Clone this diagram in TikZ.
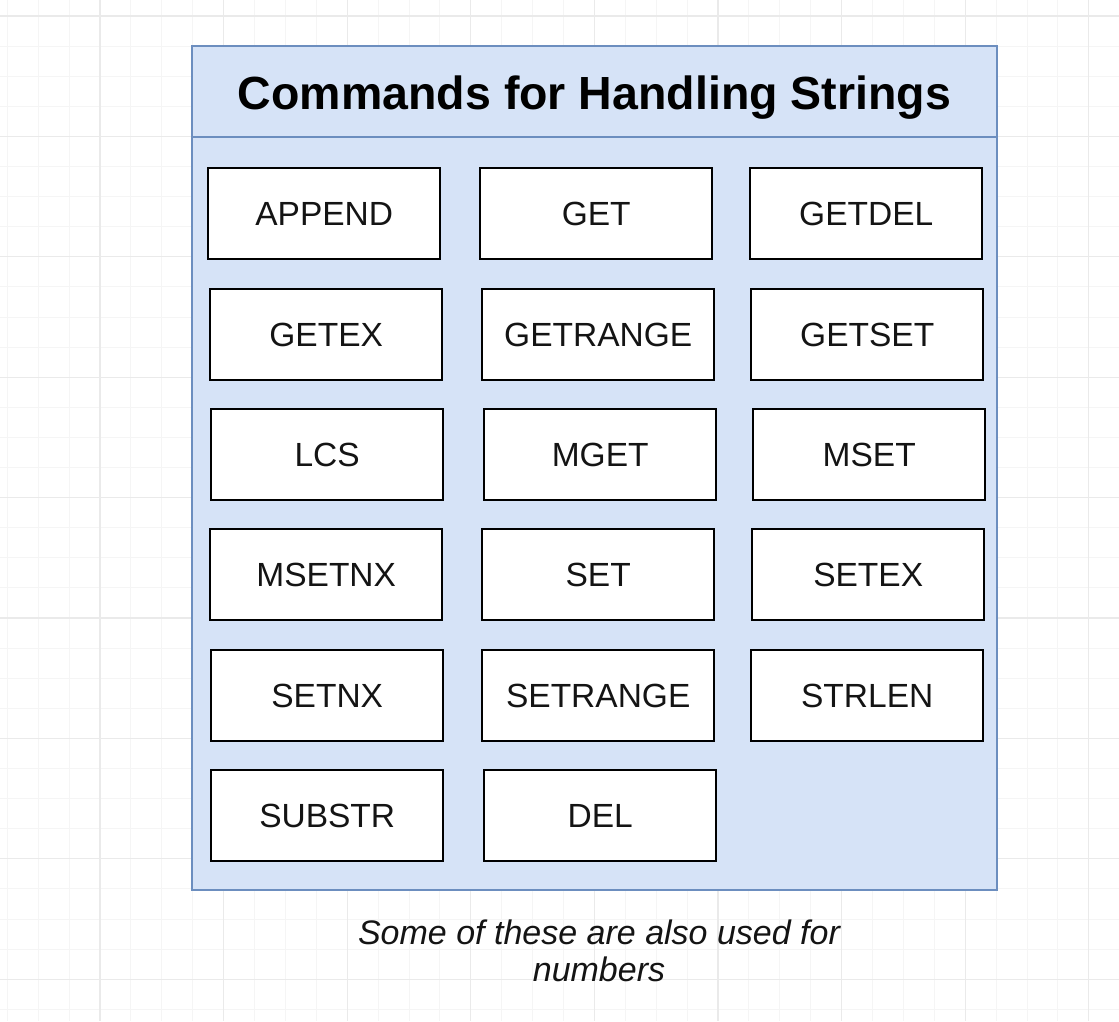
\documentclass[tikz,border=0pt]{standalone}
\usepackage{fontspec}
\setmainfont{Liberation Sans}
\definecolor{contfill}{RGB}{214,227,247}
\definecolor{contdraw}{RGB}{108,142,191}
\definecolor{gridminor}{RGB}{245,245,245}
\definecolor{gridmajor}{RGB}{234,234,234}
\definecolor{txt}{RGB}{20,20,20}
\tikzset{
  cmdbox/.style={draw=black, fill=white, line width=2.4pt, minimum width=232pt, minimum height=91pt, inner sep=0pt, font=\fontsize{33.5}{40}\selectfont, text=txt, anchor=north west},
}
\begin{document}
\begin{tikzpicture}[x=1pt,y=-1pt]
\useasboundingbox (0,0) rectangle (1119,1021);
\fill[white] (0,0) rectangle (1119,1021);
% grid
\foreach \k in {-3,...,33} {
  \pgfmathsetmacro{\gx}{100+30.9*\k}
  \draw[gridminor, line width=1pt] (\gx,0) -- (\gx,1021);
}
\foreach \k in {0,...,33} {
  \pgfmathsetmacro{\gy}{16+30.1*\k}
  \draw[gridminor, line width=1pt] (0,\gy) -- (1119,\gy);
}
\foreach \k in {0,...,8} {
  \pgfmathsetmacro{\gx}{100+123.6*\k}
  \draw[gridmajor, line width=1.1pt] (\gx,0) -- (\gx,1021);
  \pgfmathsetmacro{\gy}{16+120.4*\k}
  \draw[gridmajor, line width=1.1pt] (0,\gy) -- (1119,\gy);
}
% container
\draw[contdraw, fill=contfill, line width=2pt] (192,46) rectangle (997,890);
\draw[contdraw, line width=2pt] (192,137) -- (997,137);
\node[font=\bfseries\fontsize{46.5}{52}\selectfont, text=black] (title) at (594.5,98) {Commands for Handling Strings};
% boxes
\node[cmdbox] (append) at (207,167) {APPEND};
\node[cmdbox] (get) at (479,167) {GET};
\node[cmdbox] (getdel) at (749,167) {GETDEL};
\node[cmdbox] (getex) at (209,288) {GETEX};
\node[cmdbox] (getrange) at (481,288) {GETRANGE};
\node[cmdbox] (getset) at (750,288) {GETSET};
\node[cmdbox] (lcs) at (210,408) {LCS};
\node[cmdbox] (mget) at (483,408) {MGET};
\node[cmdbox] (mset) at (752,408) {MSET};
\node[cmdbox] (msetnx) at (209,528) {MSETNX};
\node[cmdbox] (set) at (481,528) {SET};
\node[cmdbox] (setex) at (751,528) {SETEX};
\node[cmdbox] (setnx) at (210,649) {SETNX};
\node[cmdbox] (setrange) at (481,649) {SETRANGE};
\node[cmdbox] (strlen) at (750,649) {STRLEN};
\node[cmdbox] (substr) at (210,769) {SUBSTR};
\node[cmdbox] (del) at (483,769) {DEL};
% caption
\node[font=\itshape\fontsize{34}{37}\selectfont, text=txt, align=center] (caption) at (599,951) {Some of these are also used for\\numbers};
\end{tikzpicture}
\end{document}
